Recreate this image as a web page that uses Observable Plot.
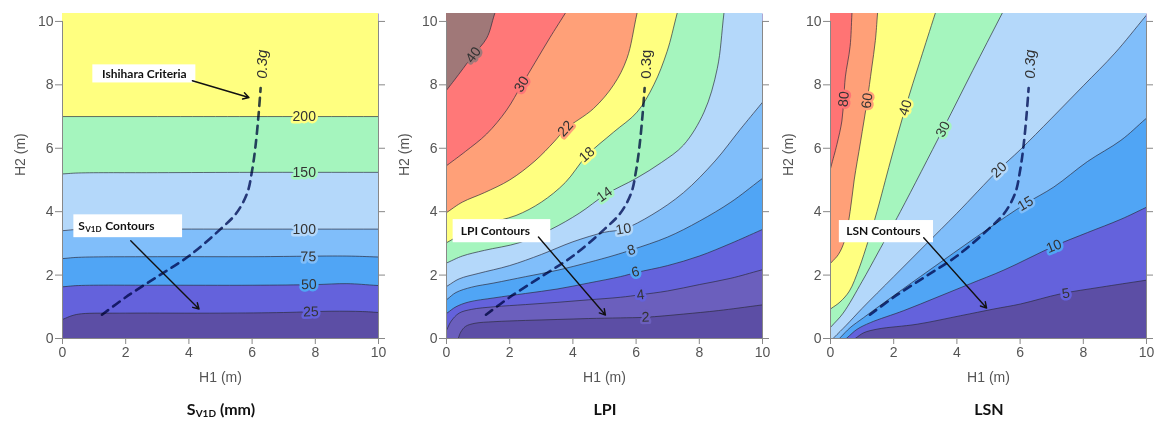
<!DOCTYPE html>
<html><head><meta charset="utf-8">
<script src="https://cdn.jsdelivr.net/npm/d3@7"></script>
<script src="https://cdn.jsdelivr.net/npm/@observablehq/plot@0.6"></script>
<style>
body{margin:0;background:#fff;}
#row{display:flex;width:1156px;}
.panel{width:384px;flex:none;}
.panel svg{overflow:visible;}
.title{font-family:Lato,"Open Sans",sans-serif;font-weight:bold;font-size:16px;color:#111;text-align:center;padding-left:58px;line-height:20px;margin-top:10px;}
.title sub{font-size:10px;vertical-align:-2px;}
</style></head><body><div id="row"></div>
<script>
// ---------- data ----------
const xTicks = [0,2,4,6,8,10];
const yTicks = [0,2,4,6,8,10];
const ishihara03g = [[1.25,0.75],[2,1.3],[3,1.95],[4,2.6],[5,3.45],[5.5,3.95],[5.85,4.6],[6.0,5.3],[6.1,6.0],[6.2,7.0],[6.27,7.9]];

// S_V1D (mm)
const svLevels = [25,50,75,100,150,200];
const svColors = ["#5c4ea5","#6462dc","#50a5f5","#80befa","#b4d8fa","#a5f5be","#ffff80"];
const sv25  = [[0,0.6],[0.3,0.72],[0.6,0.78],[2,0.8],[5,0.8],[7,0.82],[8.5,0.86],[9.5,0.85],[10,0.82]];
const sv50  = [[0,1.63],[0.5,1.67],[3,1.68],[6,1.68],[8,1.7],[9,1.73],[10,1.67]];
const sv75  = [[0,2.52],[0.5,2.56],[3,2.58],[6,2.58],[9,2.6],[10,2.57]];
const sv100 = [[0,3.4],[0.5,3.44],[3,3.45],[6,3.45],[10,3.45]];
const sv150 = [[0,5.19],[0.5,5.22],[3,5.23],[6,5.24],[10,5.24]];
const sv200 = [[0,7.0],[3,7.0],[6,7.0],[10,7.0]];
const svLabels = [[25,7.86,0.84],[50,7.8,1.7],[75,7.78,2.58],[100,7.65,3.45],[150,7.65,5.24],[200,7.65,7.0]];

// LPI
const lpiLevels = [2,4,6,8,10,14,18,22,30,40];
const lpiColors = ["#5c4ea5","#6b5fbd","#6462dc","#50a5f5","#80befa","#b4d8fa","#a5f5be","#ffff80","#ffa078","#ff7878","#a07878"];
const lpi2  = [[0.37,0],[0.45,0.2],[0.6,0.38],[0.9,0.48],[1.5,0.53],[2.5,0.57],[3.5,0.6],[4.5,0.63],[5.5,0.65],[6.3,0.67],[7.5,0.77],[8.6,0.88],[10,1.06]];
const lpi4  = [[0,0.26],[0.15,0.55],[0.4,0.8],[0.8,0.92],[1.5,1.0],[2.5,1.07],[3.5,1.14],[4.5,1.22],[5.5,1.3],[6.14,1.38],[7,1.5],[8,1.7],[9,1.9],[10,2.17]];
const lpi6  = [[0,0.79],[0.3,1.0],[0.7,1.15],[1.5,1.28],[2.5,1.42],[3.5,1.56],[4.5,1.75],[5.5,1.95],[6.0,2.08],[7,2.3],[8,2.6],[9,3.0],[10,3.44]];
const lpi8  = [[0,1.22],[0.3,1.45],[0.8,1.62],[1.5,1.75],[2.5,1.95],[3.5,2.15],[4.5,2.4],[5.3,2.62],[5.87,2.8],[7,3.2],[8,3.7],[9,4.3],[10,5.05]];
const lpi10 = [[0,1.64],[0.4,1.88],[1,2.05],[2,2.3],[3,2.65],[4,3.05],[5,3.35],[5.6,3.45],[6.5,3.9],[7.5,4.6],[8.5,5.6],[9.3,6.6],[10,7.45]];
const lpi14 = [[0,2.38],[0.5,2.6],[1.2,2.78],[2.3,3.02],[3.3,3.44],[4.2,3.95],[5.05,4.55],[6,5.05],[6.8,5.55],[7.5,6.1],[8.15,7.14],[8.57,8.52],[8.78,10.26]];
const lpi18 = [[0,3.02],[0.5,3.3],[1.2,3.6],[2.2,3.88],[3.0,4.3],[3.76,4.92],[4.44,5.77],[5.29,6.51],[6.03,7.14],[6.56,8.0],[6.98,9.05],[7.3,10.26]];
const lpi22 = [[0,3.97],[0.5,4.3],[1.2,4.6],[2.0,5.0],[2.8,5.6],[3.4,6.2],[3.76,6.6],[4.65,7.25],[5.29,8.0],[5.71,8.83],[6.03,10.26]];
const lpi30 = [[0,5.45],[0.6,5.9],[1.27,6.45],[1.9,7.2],[2.38,8.0],[2.8,8.7],[3.28,9.5],[3.76,10.26]];
const lpi40 = [[0,7.83],[0.25,8.15],[0.53,8.52],[0.85,8.95],[1.27,9.47],[1.53,10.26]];
const lpiLabels = [[2,6.3,0.67],[4,6.14,1.38],[6,5.98,2.1],[8,5.85,2.79],[10,5.6,3.45],[14,5.0,4.55],[18,4.44,5.8],[22,3.76,6.62],[30,2.38,8.02],[40,0.85,8.95]];

// LSN
const lsnLevels = [5,10,15,20,30,40,60,80];
const lsnColors = ["#5c4ea5","#6462dc","#50a5f5","#80befa","#b4d8fa","#a5f5be","#ffff80","#ffa078","#ff7474"];
const lsn5  = [[0.78,0],[1.05,0.18],[1.5,0.3],[2.74,0.45],[4.12,0.72],[5.17,0.93],[6.02,1.09],[7.29,1.41],[8.56,1.62],[10,1.84]];
const lsn10 = [[0.5,0],[0.84,0.29],[1.26,0.5],[2.32,0.88],[3.37,1.3],[4.43,1.73],[5.49,2.16],[7.07,2.91],[8.13,3.34],[9.19,3.76],[10,4.14]];
const lsn15 = [[0.28,0],[0.62,0.34],[1.05,0.66],[1.79,1.2],[2.84,1.95],[3.9,2.7],[4.96,3.44],[6.17,4.25],[7.07,4.78],[8.13,5.58],[9.19,6.25],[10,6.95]];
const lsn20 = [[0.08,0],[0.5,0.42],[1,0.95],[2,1.95],[3,2.95],[4,3.95],[5.3,5.3],[6,5.95],[7,6.95],[8,7.97],[9,9.0],[10,10.2]];
const lsn30 = [[0,0.35],[0.4,0.8],[1.0,1.8],[1.5,2.7],[2.21,4.0],[3.56,6.6],[4.5,8.45],[5.44,10.27]];
const lsn40 = [[0,0.93],[0.3,1.15],[0.6,1.5],[0.9,2.2],[1.2,3.1],[1.47,4.0],[1.9,5.6],[2.37,7.28],[2.85,8.8],[3.32,10.27]];
const lsn60 = [[0,2.37],[0.25,2.65],[0.45,3.1],[0.62,4.0],[0.75,5.0],[0.95,6.2],[1.16,7.5],[1.3,8.5],[1.42,9.4],[1.49,10.27]];
const lsn80 = [[0,5.36],[0.2,6.11],[0.36,6.86],[0.42,7.55],[0.47,8.25],[0.62,9.21],[0.68,10.28]];
const lsnLabels = [[5,7.45,1.42],[10,7.07,2.91],[15,6.17,4.25],[20,5.33,5.32],[30,3.56,6.6],[40,2.37,7.28],[60,1.16,7.5],[80,0.42,7.55]];

// ---------- layout ----------
const W = 384, ML = 62, MR = 6, MT = 13, PH = 325, MB = 51;
const XD = [0,10], YD = [0,10.25];
const KX = (W-ML-MR)/10, KY = PH/10.25;
const FONT = '"Liberation Sans", Arial, sans-serif';
const NOTE_FONT = 'Lato, "Open Sans", sans-serif';

const panels = [
  {title:'S<sub>V1D</sub> (mm)', levels:svLevels, colors:svColors,
   contours:[sv25,sv50,sv75,sv100,sv150,sv200], labels:svLabels, gItalic:true,
   note:{parts:[["S",0,0,12],["V1D",7,3,8],["Contours",27,0,12]], tx:0.5, ty:3.54, box:[0.36,3.8,3.18,3.9], arrow:[2.16,3.08,4.32,0.93]},
   note2:{text:"Ishihara Criteria", tx:2.59, ty:8.35, box:[0.96,4.22,8.06,8.63], arrow:[4.11,8.13,5.9,7.6]}},
  {title:'LPI', levels:lpiLevels, colors:lpiColors,
   contours:[lpi2,lpi4,lpi6,lpi8,lpi10,lpi14,lpi18,lpi22,lpi30,lpi40], labels:lpiLabels, gItalic:false,
   note:{parts:[["LPI Contours",0,0,12]], tx:0.45, ty:3.39, box:[0.21,3.3,3.02,3.75], arrow:[2.91,3.2,5.03,0.74]}},
  {title:'LSN', levels:lsnLevels, colors:lsnColors,
   contours:[lsn5,lsn10,lsn15,lsn20,lsn30,lsn40,lsn60,lsn80], labels:lsnLabels, gItalic:true,
   note:{parts:[["LSN Contours",0,0,12]], tx:0.5, ty:3.37, box:[0.28,3.26,3.02,3.72], arrow:[2.95,3.18,4.94,0.96]}}
];

// polygon enclosing the higher-valued (upper-left) side of a contour,
// extended straight out of the frame at both ends so the clipped curve stays smooth
function region(pts){
  const f = pts[0], g = pts[1], k = pts[pts.length-2], l = pts[pts.length-1];
  const bottomStart = f[1] <= 0.001 && f[0] > 0;
  const rightEnd = l[0] >= 10;
  const ext = (a, b, s) => { const dx=b[0]-a[0], dy=b[1]-a[1], n=Math.hypot(dx,dy)||1; return [b[0]+dx/n*s, b[1]+dy/n*s]; };
  const pre = ext(g, f, 3), post = ext(k, l, 3);
  const tail = rightEnd ? [[60,post[1]],[60,60],[-50,60]] : [[post[0],60],[-50,60]];
  const head = bottomStart ? [[-50,-50],[pre[0],-50]] : [[-50,pre[1]]];
  return [pre, ...pts, post, ...tail, ...head];
}
function angleAt(pts, x, y){
  let best = 0, bd = Infinity;
  for(let i=0;i<pts.length-1;i++){
    const mx=(pts[i][0]+pts[i+1][0])/2, my=(pts[i][1]+pts[i+1][1])/2;
    const d=(mx-x)**2+(my-y)**2; if(d<bd){bd=d;best=i;}
  }
  const a=pts[best], b=pts[best+1];
  return -Math.atan2((b[1]-a[1])*KY, (b[0]-a[0])*KX)*180/Math.PI;
}

const row = document.getElementById("row");
panels.forEach(p => {
  const marks = [Plot.frame({fill:p.colors[0], stroke:null})];
  p.contours.forEach((c,i) => {
    marks.push(Plot.line(region(c), {x:d=>d[0], y:d=>d[1], fill:p.colors[i+1], stroke:"#2a2a3a", strokeWidth:0.9, strokeOpacity:0.75, curve:"catmull-rom", clip:true}));
  });
  marks.push(Plot.line(ishihara03g, {x:d=>d[0], y:d=>d[1], stroke:"#34427a", strokeWidth:2.6, strokeDasharray:"8,6", curve:"catmull-rom", mixBlendMode:"multiply"}));
  p.labels.forEach(([v,x,y]) => {
    const i = p.levels.indexOf(v);
    marks.push(Plot.text([{v,x,y}], {x:"x", y:"y", text:d=>String(d.v), rotate:angleAt(p.contours[i],x,y),
      fill:"#333", stroke:p.colors[i+1], strokeWidth:5, paintOrder:"stroke", fontSize:14, fontFamily:FONT}));
  });
  marks.push(Plot.text([{t:"0.3g", x:6.33, y:8.65}], {x:"x", y:"y", text:"t", rotate:-90, fill:"#333", fontSize:15, fontStyle:p.gItalic?"italic":"normal", fontFamily:FONT}));
  const notes = [p.note, p.note2].filter(Boolean);
  notes.forEach(n => {
    marks.push(Plot.rect([n], {x1:d=>d.box[0], x2:d=>d.box[1], y1:d=>d.box[2], y2:d=>d.box[3], fill:"white"}));
    if(n.parts){
      n.parts.forEach(([t,dx,dy,fs]) => marks.push(Plot.text([n], {x:"tx", y:"ty", text:()=>t, dx, dy, textAnchor:"start", fontSize:fs, fontWeight:"bold", fill:"#111", fontFamily:NOTE_FONT})));
    } else {
      marks.push(Plot.text([n], {x:"tx", y:"ty", text:"text", fontSize:12, fontWeight:"bold", fill:"#111", fontFamily:NOTE_FONT}));
    }
    marks.push(Plot.arrow([n], {x1:d=>d.arrow[0], y1:d=>d.arrow[1], x2:d=>d.arrow[2], y2:d=>d.arrow[3], stroke:"#111", strokeWidth:1.4, headLength:7}));
  });
  marks.push(
    Plot.ruleX([0,10], {y1:0, y2:10, stroke:"#888"}),
    Plot.ruleY([0], {x1:0, x2:10, stroke:"#888"}),
    Plot.axisX(xTicks, {anchor:"bottom", tickSize:6, tickPadding:3, fontSize:14, color:"#555", stroke:"#888", label:null}),
    Plot.axisY(yTicks, {anchor:"left", tickSize:7, tickPadding:2, fontSize:14, color:"#555", stroke:"#888", label:null}),
    Plot.axisY(yTicks, {anchor:"right", tickSize:6, tickFormat:()=>"", stroke:"#888", label:null}),
    Plot.text(["H1 (m)"], {frameAnchor:"bottom", dy:43, fontSize:14, fill:"#555", fontFamily:FONT}),
    Plot.text(["H2 (m)"], {frameAnchor:"left", dx:-42, rotate:-90, fontSize:14, fill:"#555", fontFamily:FONT})
  );
  const chart = Plot.plot({
    width:W, height:MT+PH+MB, marginLeft:ML, marginRight:MR, marginTop:MT, marginBottom:MB,
    x:{domain:XD}, y:{domain:YD}, style:{fontFamily:FONT, fontSize:"14px", background:"transparent", overflow:"visible"},
    marks
  });
  const div = document.createElement("div"); div.className="panel";
  div.appendChild(chart);
  const t = document.createElement("div"); t.className="title"; t.innerHTML=p.title;
  div.appendChild(t);
  row.appendChild(div);
});
</script></body></html>
